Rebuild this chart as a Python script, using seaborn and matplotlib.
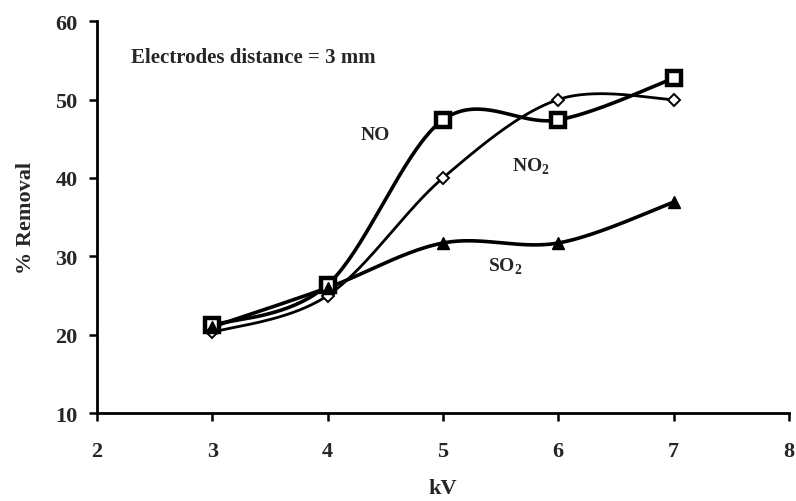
import numpy as np
import pandas as pd
import matplotlib
matplotlib.use("Agg")
import matplotlib.pyplot as plt
import seaborn as sns

# --- Data ---
kv = [3, 4, 5, 6, 7]
no_removal = [21.2, 26.4, 47.4, 47.4, 52.7]
no2_removal = [20.3, 25.0, 40.0, 50.0, 50.0]
so2_removal = [21.0, 26.0, 31.7, 31.7, 36.9]

series_names = ["NO", "NO2", "SO2"]
x_ticks = [2, 3, 4, 5, 6, 7, 8]
y_ticks = [10, 20, 30, 40, 50, 60]


def smooth(x, y, n=40):
    # Excel-like smoothed line (Catmull-Rom through the points)
    x = np.asarray(x, float)
    y = np.asarray(y, float)
    px = np.concatenate([[x[0]], x, [x[-1]]])
    py = np.concatenate([[y[0]], y, [y[-1]]])
    xs, ys = [], []
    t = np.linspace(0, 1, n)
    for i in range(1, len(px) - 2):
        p0, p1, p2, p3 = [np.array([px[j], py[j]]) for j in (i - 1, i, i + 1, i + 2)]
        c1 = p1 + (p2 - p0) / 6
        c2 = p2 - (p3 - p1) / 6
        b = (((1 - t) ** 3)[:, None] * p1 + (3 * (1 - t) ** 2 * t)[:, None] * c1
             + (3 * (1 - t) * t ** 2)[:, None] * c2 + (t ** 3)[:, None] * p2)
        xs.extend(b[:, 0])
        ys.extend(b[:, 1])
    return xs, ys


sns.set_theme(style="ticks")
plt.rcParams["font.family"] = ["Liberation Serif", "DejaVu Serif"]
plt.rcParams["font.weight"] = "bold"
plt.rcParams["mathtext.fontset"] = "custom"
plt.rcParams["mathtext.rm"] = "Liberation Serif:bold"
plt.rcParams["mathtext.bf"] = "Liberation Serif:bold"

fig = plt.figure(figsize=(7.96, 5.02), dpi=100)
ax = fig.add_axes([0.122, 0.175, 0.869, 0.781])

styles = {
    "NO": dict(lw=2.6, marker="s", ms=10, mfc="white", mew=3.2),
    "NO2": dict(lw=2.0, marker="D", ms=6.5, mfc="white", mew=1.4),
    "SO2": dict(lw=2.6, marker="^", ms=9, mfc="black", mew=1),
}
values = {"NO": no_removal, "NO2": no2_removal, "SO2": so2_removal}

for name in series_names:
    st = styles[name]
    cx, cy = smooth(kv, values[name])
    curve = pd.DataFrame({"kV": cx, "removal": cy})
    sns.lineplot(data=curve, x="kV", y="removal", sort=False, color="black",
                 lw=st["lw"], ax=ax)
    pts = pd.DataFrame({"kV": kv, "removal": values[name]})
    ax.plot(pts["kV"], pts["removal"], ls="none", marker=st["marker"],
            ms=st["ms"], mfc=st["mfc"], mec="black", mew=st["mew"], zorder=4)

ax.set_xlim(2, 8)
ax.set_ylim(10, 60)
ax.set_xticks(x_ticks)
ax.set_yticks(y_ticks)
ax.tick_params(axis="both", labelsize=16, length=6, width=1.8, direction="out",
               color="black", pad=8)
for lab in ax.get_xticklabels() + ax.get_yticklabels():
    lab.set_fontweight("bold")
ax.tick_params(axis="x", pad=14)
for side in ["top", "right"]:
    ax.spines[side].set_visible(False)
for side in ["left", "bottom"]:
    ax.spines[side].set_linewidth(2)
    ax.spines[side].set_color("black")

ax.set_xlabel("kV", fontsize=16, fontweight="bold", labelpad=12)
ax.set_ylabel("% Removal", fontsize=16, fontweight="bold", labelpad=14)

ax.text(2.29, 55.4, "Electrodes distance = 3 mm", fontsize=15, fontweight="bold",
        va="center", ha="left")
ax.text(4.41, 45.5, "NO", fontsize=14, fontweight="bold", ha="center", va="center")
ax.text(5.76, 41.5, "NO$_\\mathbf{2}$", fontsize=14, fontweight="bold", ha="center", va="center")
ax.text(5.54, 28.8, "SO$_\\mathbf{2}$", fontsize=14, fontweight="bold", ha="center", va="center")

fig.savefig("out.png", dpi=100, facecolor="white")
